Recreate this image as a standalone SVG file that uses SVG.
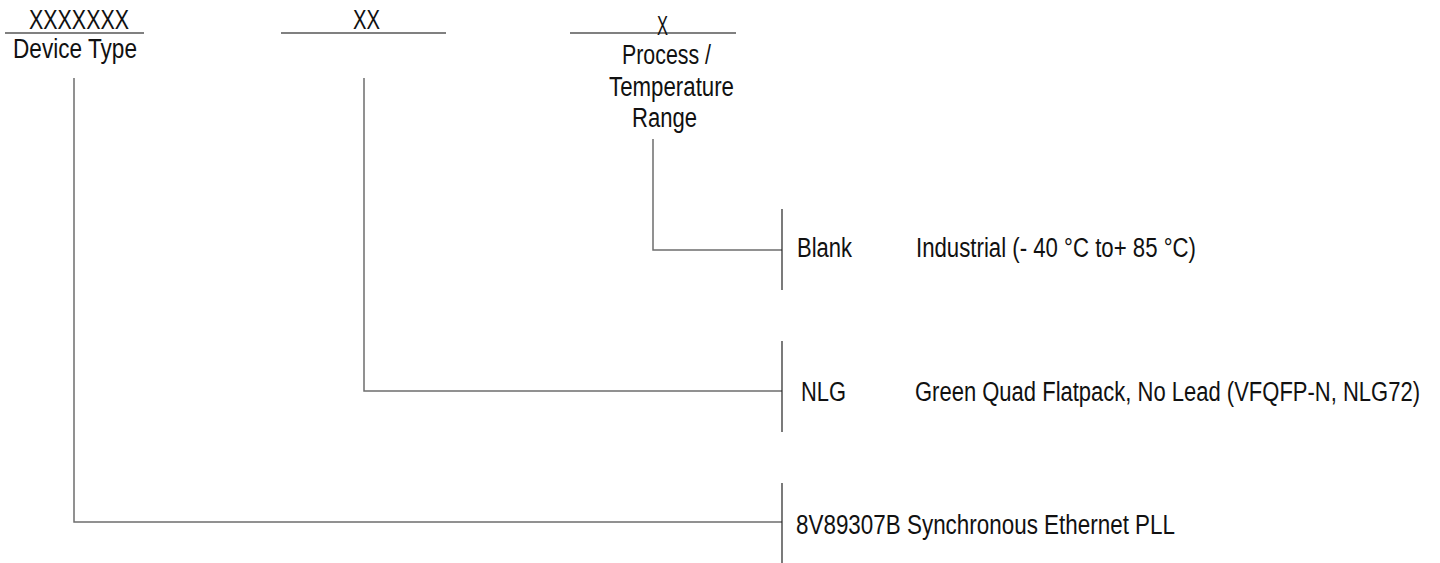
<svg xmlns="http://www.w3.org/2000/svg" width="1440" height="563" viewBox="0 0 1440 563">
<style>
text{font-family:"Liberation Sans Narrow","Liberation Sans",Arial,sans-serif;font-size:27px;fill:#111}
.top{stroke:#808080;stroke-width:2;fill:none}
.conn{stroke:#6e6e6e;stroke-width:1.5;fill:none}
.bar{stroke:#222;stroke-width:1.2;fill:none}
</style>
<rect width="1440" height="563" fill="#fff"/>
<g id="field-device">
<line class="top" x1="5" y1="33" x2="144" y2="33"/>
<text x="29" y="29" textLength="100" lengthAdjust="spacingAndGlyphs">XXXXXXX</text>
<text x="13" y="58" textLength="124" lengthAdjust="spacingAndGlyphs">Device Type</text>
</g>
<g id="field-package">
<line class="top" x1="281" y1="33" x2="446" y2="33"/>
<text x="353" y="29" textLength="27" lengthAdjust="spacingAndGlyphs">XX</text>
</g>
<g id="field-process">
<line class="top" x1="570" y1="33" x2="736" y2="33"/>
<text x="657" y="35" textLength="11" lengthAdjust="spacingAndGlyphs">X</text>
<text x="622" y="64" textLength="89" lengthAdjust="spacingAndGlyphs">Process /</text>
<text x="609" y="96" textLength="125" lengthAdjust="spacingAndGlyphs">Temperature</text>
<text x="632" y="127" textLength="65" lengthAdjust="spacingAndGlyphs">Range</text>
</g>
<g id="connectors">
<polyline class="conn" points="653,139 653,250 782,250"/>
<polyline class="conn" points="364,78 364,391 782,391"/>
<polyline class="conn" points="74,78 74,522 782,522"/>
<line class="bar" x1="782" y1="209" x2="782" y2="290"/>
<line class="bar" x1="782" y1="341" x2="782" y2="432"/>
<line class="bar" x1="782" y1="483" x2="782" y2="563"/>
</g>
<g id="opt-blank">
<text x="797" y="257" textLength="55" lengthAdjust="spacingAndGlyphs">Blank</text>
<text x="916" y="257" textLength="280" lengthAdjust="spacingAndGlyphs">Industrial (- 40  °C to+ 85 °C)</text>
</g>
<g id="opt-nlg">
<text x="801" y="401" textLength="45" lengthAdjust="spacingAndGlyphs">NLG</text>
<text x="915" y="401" textLength="505" lengthAdjust="spacingAndGlyphs">Green Quad Flatpack, No Lead (VFQFP-N, NLG72)</text>
</g>
<g id="opt-device">
<text x="796" y="534" textLength="379" lengthAdjust="spacingAndGlyphs">8V89307B Synchronous Ethernet PLL</text>
</g>
</svg>
